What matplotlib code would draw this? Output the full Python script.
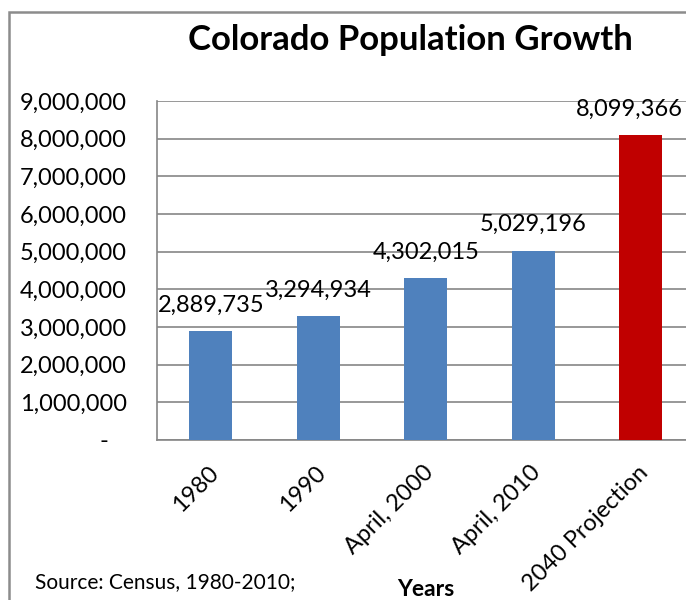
import matplotlib
matplotlib.use('Agg')
import matplotlib.pyplot as plt
from matplotlib.patches import Rectangle
from matplotlib.ticker import FuncFormatter
from matplotlib.transforms import ScaledTranslation

years = ['1980', '1990', 'April, 2000', 'April, 2010', '2040 Projection']
population = [2889735, 3294934, 4302015, 5029196, 8099366]
bar_colors = ['#4F81BD', '#4F81BD', '#4F81BD', '#4F81BD', '#C00000']
y_ticks = [0, 1000000, 2000000, 3000000, 4000000, 5000000, 6000000, 7000000, 8000000, 9000000]

plt.rcParams['font.family'] = ['Lato', 'DejaVu Sans']

fig = plt.figure(figsize=(6.86, 6.0), dpi=100)
W, H = 686, 600

# outer chart border (runs off the right and bottom edges)
fig.patches.append(Rectangle((8.5 / W, -0.1), 1.2, 1 - 11.5 / H + 0.1,
                             transform=fig.transFigure, fill=False,
                             edgecolor='#8c8c8c', lw=1.8, zorder=0))

ax = fig.add_axes([157 / W, 160 / H, (694.75 - 157) / W, (440 - 101) / H])
x = range(len(years))
ax.bar(x, population, width=0.4, color=bar_colors, zorder=3)
ax.set_xlim(-0.5, 4.5)
ax.set_ylim(0, 9000000)
ax.set_yticks(y_ticks)
ax.yaxis.set_major_formatter(FuncFormatter(lambda v, p: '-   ' if v == 0 else f'{int(v):,}'))
ax.grid(axis='y', color='#868686', lw=1.2, zorder=0)
ax.set_axisbelow(True)
for s in ['top', 'right']:
    ax.spines[s].set_visible(False)
for s in ['left', 'bottom']:
    ax.spines[s].set_color('#868686')
    ax.spines[s].set_linewidth(1.2)
ax.set_xticks(list(x))
ax.set_xticklabels(years, rotation=45, ha='right', va='center', rotation_mode='anchor')
ax.tick_params(axis='y', length=0, labelsize=17, pad=21.6)
ax.tick_params(axis='x', length=0, labelsize=17, pad=21)
shift = ScaledTranslation(4 / 100, 0, fig.dpi_scale_trans)
for lbl in ax.get_xticklabels():
    lbl.set_transform(lbl.get_transform() + shift)

# value labels above bars; the last one is nudged left to stay inside the chart
for i, v in enumerate(population):
    dx = -8 if i == len(population) - 1 else 0
    ax.annotate(f'{v:,}', (i, v), xytext=(dx, 11), textcoords='offset points',
                ha='center', va='bottom', fontsize=17)

fig.text(0.5 * (190 + 630) / W, 1 - 40 / H, 'Colorado Population Growth',
         ha='center', va='center', fontsize=25, fontweight='bold')
fig.text(426 / W, 1 - 589 / H, 'Years', ha='center', va='center',
         fontsize=16.5, fontweight='bold')
fig.text(35 / W, 1 - 582 / H, 'Source: Census, 1980-2010;', ha='left', va='center',
         fontsize=15)

fig.savefig('out.png', dpi=100)
